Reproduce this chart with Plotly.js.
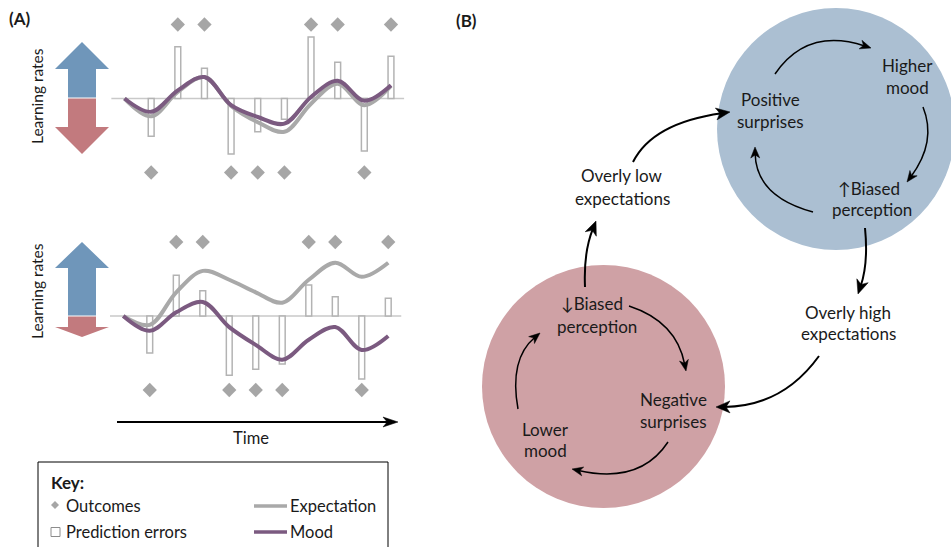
<!DOCTYPE html>
<html>
<head>
<meta charset="utf-8">
<script src="https://cdn.plot.ly/plotly-3.0.1.min.js"></script>
<style>html,body{margin:0;padding:0;background:#fff;}#chart{width:951px;height:547px;}</style>
</head>
<body>
<div id="chart"></div>
<script>
// ---- data ----
const steps = [0, 1, 2, 3, 4, 5, 6, 7, 8, 9, 10];
const trials = [1, 2, 3, 4, 5, 6, 7, 8, 9, 10];
const outcomes = [-1, 1, 1, -1, -1, -1, 1, 1, -1, 1];
const predErrTop = [-0.51, 0.70, 0.41, -0.75, -0.45, -0.28, 0.83, 0.49, -0.71, 0.57];
const expectTop = [0, -0.24, 0.09, 0.29, -0.10, -0.32, -0.45, -0.07, 0.20, -0.09, 0.17];
const moodTop = [0, -0.18, 0.11, 0.29, -0.09, -0.25, -0.34, 0.02, 0.24, -0.03, 0.18];
const predErrBottom = [-0.50, 0.55, 0.34, -0.80, -0.72, -0.65, 0.42, 0.26, -0.85, 0.24];
const expectBottom = [0, -0.12, 0.32, 0.61, 0.49, 0.32, 0.18, 0.49, 0.72, 0.53, 0.72];
const moodBottom = [0, -0.20, 0.05, 0.19, -0.15, -0.39, -0.59, -0.32, -0.15, -0.46, -0.27];

const keyLabels = ["Outcomes", "Prediction errors", "Expectation", "Mood"];

// ---- styles ----
const GRAY = '#a9a9a9', PURPLE = '#7b5a80', DIAM = '#a6a6a6', BAROUT = '#b3b3b3';
const BLUE = '#6f96ba', RED = '#c27a7e', BLUEC = '#abbfd2', REDC = '#cfa1a5';
const FONT = 'Lato, "Open Sans", sans-serif';
const TXT = '#1a1a1a';
const BSIZE = 17;

function panelTraces(xa, ya, pe, ex, md) {
  return [
    {type: 'bar', x: trials, y: pe, width: 0.22, xaxis: xa, yaxis: ya,
     marker: {color: '#ffffff', line: {color: BAROUT, width: 1.5}}, hoverinfo: 'skip'},
    {type: 'scatter', mode: 'lines', x: steps, y: ex, xaxis: xa, yaxis: ya,
     line: {color: GRAY, width: 4, shape: 'spline', smoothing: 1}, hoverinfo: 'skip'},
    {type: 'scatter', mode: 'lines', x: steps, y: md, xaxis: xa, yaxis: ya,
     line: {color: PURPLE, width: 4, shape: 'spline', smoothing: 1}, hoverinfo: 'skip'},
    {type: 'scatter', mode: 'markers', x: trials, y: outcomes, xaxis: xa, yaxis: ya,
     marker: {symbol: 'diamond', size: 11, color: DIAM}, hoverinfo: 'skip'}
  ];
}

const traces = [].concat(
  panelTraces('x', 'y', predErrTop, expectTop, moodTop),
  panelTraces('x2', 'y2', predErrBottom, expectBottom, moodBottom),
  [{type: 'scatter', mode: 'markers', x: [], y: [], xaxis: 'x3', yaxis: 'y3', hoverinfo: 'skip'}]
);

// ---- helpers for the diagram (pixel overlay axis x3/y3) ----
const shapes = [];
const ann = [];
function P(d, fill, lineColor, lw, layer) {
  shapes.push({type: 'path', xref: 'x3', yref: 'y3', path: d, fillcolor: fill || 'rgba(0,0,0,0)',
    line: {color: lineColor || 'rgba(0,0,0,0)', width: lw || 0}, layer: layer || 'above'});
}
function head(tip, d, len, w) {
  const n = [-d[1], d[0]];
  const b = [tip[0] - d[0] * len, tip[1] - d[1] * len];
  const notch = [tip[0] - d[0] * len * 0.72, tip[1] - d[1] * len * 0.72];
  const p1 = [b[0] + n[0] * w / 2, b[1] + n[1] * w / 2];
  const p2 = [b[0] - n[0] * w / 2, b[1] - n[1] * w / 2];
  P(`M${tip[0]},${tip[1]} L${p1[0]},${p1[1]} L${notch[0]},${notch[1]} L${p2[0]},${p2[1]} Z`, '#000', '#000', 0.5);
}
function curved(p0, mid, p2, lw, len, w) {
  const c = [2 * mid[0] - 0.5 * (p0[0] + p2[0]), 2 * mid[1] - 0.5 * (p0[1] + p2[1])];
  let d = [p2[0] - c[0], p2[1] - c[1]];
  const L = Math.hypot(d[0], d[1]); d = [d[0] / L, d[1] / L];
  const e = [p2[0] - d[0] * len * 0.6, p2[1] - d[1] * len * 0.6];
  P(`M${p0[0]},${p0[1]} Q${c[0]},${c[1]} ${e[0]},${e[1]}`, null, '#000', lw);
  head(p2, d, len, w);
}
function text(t, x, y, size, opts) {
  ann.push(Object.assign({xref: 'x3', yref: 'y3', x: x, y: y, text: t, showarrow: false,
    font: {family: FONT, size: size, color: TXT}, xanchor: 'center', yanchor: 'middle'}, opts || {}));
}

// baselines of the two panels (data axes)
shapes.push({type: 'line', xref: 'x', yref: 'y', x0: -0.5, x1: 10.5, y0: 0, y1: 0, line: {color: '#c9c9c9', width: 1.5}, layer: 'below'});
shapes.push({type: 'line', xref: 'x2', yref: 'y2', x0: -0.5, x1: 10.5, y0: 0, y1: 0, line: {color: '#c9c9c9', width: 1.5}, layer: 'below'});

// block arrows (learning rates)
P('M68,97.5 L68,69 L55,69 L82,42 L109,69 L96,69 L96,97.5 Z', BLUE);
P('M68,98.5 L68,127 L55,127 L82,154 L109,127 L96,127 L96,98.5 Z', RED);
P('M68,315.5 L68,268 L55,268 L82,242 L109,268 L96,268 L96,315.5 Z', BLUE);
P('M68,316.5 L68,327 L55,327 L82,337 L109,327 L96,327 L96,316.5 Z', RED);
text('Learning rates', 37, 96, 15.5, {textangle: -90});
text('Learning rates', 37, 291, 15.5, {textangle: -90});

// time arrow
P('M117,422 L388,422', null, '#000', 2);
head([398, 422], [1, 0], 15, 10);
text('Time', 251, 438, 16.5);

// key box
shapes.push({type: 'rect', xref: 'x3', yref: 'y3', x0: 38, x1: 388, y0: 462, y1: 560, line: {color: '#000', width: 1}, fillcolor: 'rgba(0,0,0,0)'});
text('<b>Key:</b>', 49, 482, 17, {xanchor: 'left'});
P('M55,501 L59,505 L55,509 L51,505 Z', DIAM);
shapes.push({type: 'rect', xref: 'x3', yref: 'y3', x0: 51, x1: 60, y0: 527.5, y1: 536.5, line: {color: '#8c8c8c', width: 1}, fillcolor: '#fff'});
P('M254,506 L287,506', null, GRAY, 3.5);
P('M254,532 L287,532', null, PURPLE, 3.5);
text(keyLabels[0], 64, 506, 16.5, {xanchor: 'left'});
text(keyLabels[1], 64, 532, 16.5, {xanchor: 'left'});
text(keyLabels[2], 288, 506, 16.5, {xanchor: 'left'});
text(keyLabels[3], 288, 532, 16.5, {xanchor: 'left'});

// panel labels
text('<b>(A)</b>', 7, 18, 17, {xanchor: 'left'});
text('<b>(B)</b>', 454, 20, 17, {xanchor: 'left'});

// circles in panel B
shapes.push({type: 'circle', xref: 'x3', yref: 'y3', x0: 717, x1: 955, y0: 8, y1: 250, fillcolor: BLUEC, line: {width: 0}, layer: 'below'});
shapes.push({type: 'circle', xref: 'x3', yref: 'y3', x0: 482, x1: 725, y0: 265, y1: 508, fillcolor: REDC, line: {width: 0}, layer: 'below'});

// texts panel B
text('Positive', 770, 99, BSIZE); text('surprises', 770, 121, BSIZE);
text('Higher', 907, 65, BSIZE); text('mood', 907, 87, BSIZE);
text('\u2191Biased', 869, 188, BSIZE); text('perception', 872, 209, BSIZE);
text('Overly low', 622, 175, BSIZE); text('expectations', 622, 198, BSIZE);
text('Overly high', 848, 312, BSIZE); text('expectations', 848, 333, BSIZE);
text('\u2193Biased', 592, 303, BSIZE); text('perception', 597, 326, BSIZE);
text('Negative', 673, 399, BSIZE); text('surprises', 673, 421, BSIZE);
text('Lower', 545, 429, BSIZE); text('mood', 545, 450, BSIZE);

// arrows panel B
curved([775, 74], [815, 44], [871, 48], 1.5, 11, 9);
curved([923, 107], [926, 143], [907, 182], 1.5, 11, 9);
curved([813, 212], [770, 188], [755, 147], 1.5, 11, 9);
curved([633, 162], [667, 130], [730, 112], 2, 14, 12);
curved([585, 287], [587, 253], [596, 221], 2, 14, 12);
curved([865, 228], [865, 262], [858, 294], 2, 14, 12);
curved([819, 356], [775, 394], [716, 407], 2, 14, 12);
curved([629, 306], [667, 330], [686, 371], 1.5, 11, 9);
curved([668, 442], [630, 470], [572, 469], 1.5, 11, 9);
curved([518, 409], [519, 365], [540, 333], 1.5, 11, 9);

const hidden = {visible: false, fixedrange: true, showgrid: false, zeroline: false};
const layout = {
  width: 951, height: 547,
  margin: {l: 0, r: 0, t: 0, b: 0, pad: 0},
  paper_bgcolor: '#fff', plot_bgcolor: 'rgba(0,0,0,0)',
  showlegend: false, barmode: 'overlay',
  xaxis: Object.assign({}, hidden, {domain: [111.2 / 951, 404.3 / 951], range: [-0.5, 10.5], anchor: 'y'}),
  yaxis: Object.assign({}, hidden, {domain: [1 - 194.7 / 547, 1 - 2.3 / 547], range: [-1.3, 1.3], anchor: 'x'}),
  xaxis2: Object.assign({}, hidden, {domain: [110.0 / 951, 401.5 / 951], range: [-0.5, 10.5], anchor: 'y2'}),
  yaxis2: Object.assign({}, hidden, {domain: [1 - 412.2 / 547, 1 - 219.8 / 547], range: [-1.3, 1.3], anchor: 'x2'}),
  xaxis3: Object.assign({}, hidden, {domain: [0, 1], range: [0, 951], anchor: 'y3'}),
  yaxis3: Object.assign({}, hidden, {domain: [0, 1], range: [547, 0], anchor: 'x3'}),
  shapes: shapes,
  annotations: ann
};
Plotly.newPlot('chart', traces, layout, {staticPlot: true, displayModeBar: false});
</script>
</body>
</html>
